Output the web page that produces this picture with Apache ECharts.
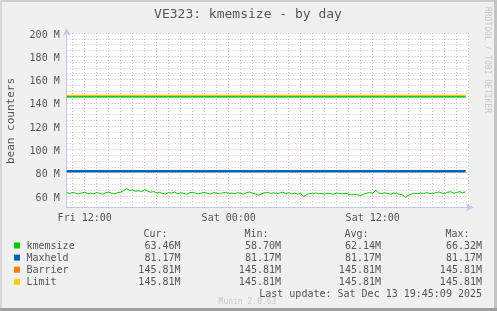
<!DOCTYPE html>
<html><head><meta charset="utf-8">
<script src="https://cdn.jsdelivr.net/npm/echarts@6/dist/echarts.min.js"></script>
<style>html,body{margin:0;padding:0;background:#f0f0f0}#c{width:497px;height:311px}</style>
</head><body><div id="c"></div>
<script>
// ---- data ----
const startHour = 10.5;          // Fri 10:30 (hours since Fri 00:00)
const stepHour = 0.25;           // 15-minute samples
const kmemsize = [
62.8,62.1,63.0,62.4,61.7,62.6,63.2,62.0,62.5,61.8,
62.9,62.3,61.6,62.7,63.4,62.2,61.9,62.8,63.3,64.6,
66.3,64.8,65.2,63.9,64.7,63.6,65.4,64.1,63.2,63.8,
62.6,63.1,62.2,61.8,62.9,62.4,63.3,61.9,62.7,62.1,
61.6,62.8,63.2,62.3,61.9,62.6,63.0,62.2,61.7,62.9,
62.4,61.8,62.7,63.1,62.0,62.5,61.9,62.8,62.3,61.6,
62.9,63.4,62.1,61.7,60.6,61.9,62.6,63.0,62.2,62.7,
61.9,62.5,63.3,62.0,62.8,61.8,62.4,61.5,62.1,59.4,
61.2,62.3,61.8,62.6,61.9,62.2,61.6,62.4,62.0,61.7,
62.5,62.1,61.8,62.3,61.4,61.1,61.2,61.0,60.3,61.6,
62.4,63.0,62.2,65.0,62.6,61.9,62.7,62.1,61.6,62.5,
62.0,61.5,60.9,58.7,60.8,61.7,62.3,61.9,62.6,62.1,
62.8,62.2,61.8,62.7,63.4,62.5,62.0,63.2,63.6,62.4,
62.9,63.7,62.8,63.46
];
const maxheld = 81.17;
const barrier = 145.81;
const limit = 145.81;
const xTickLabels = {12: 'Fri 12:00', 24: 'Sat 00:00', 36: 'Sat 12:00'};
const legendNames = ['kmemsize', 'Maxheld', 'Barrier', 'Limit'];
const legendColors = ['#00cc00', '#0066b3', '#ff8000', '#ffcc00'];
const statHeaders = ['Cur:', 'Min:', 'Avg:', 'Max:'];
const stats = [
  ['63.46M', '58.70M', '62.14M', '66.32M'],
  ['81.17M', '81.17M', '81.17M', '81.17M'],
  ['145.81M', '145.81M', '145.81M', '145.81M'],
  ['145.81M', '145.81M', '145.81M', '145.81M']
];
const titleText = 'VE323: kmemsize - by day';
const yName = 'bean counters';
const lastUpdate = 'Last update: Sat Dec 13 19:45:09 2025';
const munin = 'Munin 2.0.63';
const rrd = 'RRDTOOL / TOBI OETIKER';

// ---- build ----
const times = kmemsize.map((_, i) => startHour + i * stepHour);
const endHour = times[times.length - 1];
const green = times.map((t, i) => [t, kmemsize[i]]);
const flat = v => [[times[0], v], [endHour, v]];

const FONT = 'DejaVu Sans Mono';
const TXT = '#555';
const T = 'rgba(0,0,0,0)', G = '#c8c8c8', R = '#f3a6a6';

const graphic = [
  {type: 'rect', shape: {x: 0, y: 0, width: 497, height: 2}, style: {fill: '#cdcdcd'}, silent: true},
  {type: 'rect', shape: {x: 0, y: 0, width: 2, height: 311}, style: {fill: '#d6d6d6'}, silent: true},
  {type: 'rect', shape: {x: 494, y: 0, width: 3, height: 311}, style: {fill: '#c4c4c4'}, silent: true},
  {type: 'rect', shape: {x: 0, y: 308, width: 497, height: 3}, style: {fill: '#a0a0a0'}, silent: true},
  {type: 'text', x: 248, y: 15, style: {text: titleText, font: '13px ' + FONT, fill: TXT, align: 'center', verticalAlign: 'middle'}},
  {type: 'text', x: 11.5, y: 121, rotation: Math.PI / 2, style: {text: yName, font: '11px ' + FONT, fill: TXT, align: 'center', verticalAlign: 'middle'}},
  {type: 'text', x: 487, y: 60, rotation: -Math.PI / 2, style: {text: rrd, font: '8px ' + FONT, fill: '#c8c8c8', align: 'center', verticalAlign: 'middle'}},
  {type: 'text', x: 482, y: 294.5, style: {text: lastUpdate, font: '10px ' + FONT, fill: TXT, align: 'right', verticalAlign: 'middle'}},
  {type: 'text', x: 247.5, y: 301.5, style: {text: munin, font: '8px ' + FONT, fill: '#c8c8c8', align: 'center', verticalAlign: 'middle'}}
];
const headerRight = [167.5, 268.5, 368.5, 469.5];
const valueRight = [180.5, 281, 381, 482];
statHeaders.forEach((h, j) => graphic.push({type: 'text', x: headerRight[j], y: 234, style: {text: h, font: '10px ' + FONT, fill: TXT, align: 'right', verticalAlign: 'middle'}}));
legendNames.forEach((n, i) => {
  const y = 245.5 + i * 12.1;
  graphic.push({type: 'rect', shape: {x: 14, y: y - 3, width: 6, height: 6}, style: {fill: legendColors[i]}, silent: true});
  graphic.push({type: 'text', x: 26.5, y: y + 1, style: {text: n, font: '10px ' + FONT, fill: TXT, align: 'left', verticalAlign: 'middle'}});
  stats[i].forEach((s, j) => graphic.push({type: 'text', x: valueRight[j], y: y + 1, style: {text: s, font: '10px ' + FONT, fill: TXT, align: 'right', verticalAlign: 'middle'}}));
});

const axisLineColor = '#c3c8f2';
const option = {
  animation: false,
  backgroundColor: '#f0f0f0',
  grid: {left: 66.7, right: 28.3, top: 33, bottom: 103.4, show: true, backgroundColor: '#ffffff', borderWidth: 0},
  xAxis: {
    type: 'value', min: startHour, max: 44, interval: 0.5,
    axisLine: {show: true, lineStyle: {color: axisLineColor, width: 1}, symbol: ['none', 'arrow'], symbolSize: [6, 8], symbolOffset: [0, 5]},
    axisTick: {show: false},
    axisLabel: {
      margin: 5, padding: [1, 0, 0, 0], color: TXT, fontFamily: FONT, fontSize: 10,
      formatter: v => xTickLabels[Math.round(v * 2) / 2] || ''
    },
    splitLine: {show: true, lineStyle: {type: [1, 2], width: 1, color: [T, G, T, R, T, G, T, G, T, G, T, G]}}
  },
  yAxis: {
    type: 'value', min: 50, max: 200, interval: 5,
    axisLine: {show: true, lineStyle: {color: axisLineColor, width: 1}, symbol: ['none', 'arrow'], symbolSize: [6, 8], symbolOffset: [0, 5]},
    axisTick: {show: false},
    axisLabel: {
      margin: 7, color: TXT, fontFamily: FONT, fontSize: 10,
      formatter: v => (Math.round(v) % 20 === 0 && v >= 60) ? '{a|' + Math.round(v) + ' M}' : '',
      rich: {a: {fontFamily: FONT, fontSize: 10, color: TXT, padding: [4, 0, 0, 0]}}
    },
    splitLine: {show: true, lineStyle: {type: [1, 2], width: 1, color: [G, G, R, G]}}
  },
  graphic: graphic,
  series: [
    {name: legendNames[0], type: 'line', data: green, showSymbol: false, lineStyle: {color: legendColors[0], width: 1}, z: 5},
    {name: legendNames[1], type: 'line', data: flat(maxheld), showSymbol: false, lineStyle: {color: legendColors[1], width: 2.4}, z: 4},
    {name: legendNames[2], type: 'line', data: flat(barrier), showSymbol: false, lineStyle: {color: legendColors[2], width: 1}, z: 3},
    {name: legendNames[3], type: 'line', data: flat(limit), showSymbol: false, lineStyle: {color: legendColors[3], width: 2.6}, z: 4}
  ]
};
const chart = echarts.init(document.getElementById('c'), null, {renderer: 'canvas'});
chart.setOption(option);
// Limit line rendered with the yellow-over-green look of the original, placed from the axis scale
const yPix = chart.convertToPixel({yAxisIndex: 0}, limit);
chart.setOption({series: [{}, {}, {}, {lineStyle: {color: {
  type: 'linear', global: true, x: 0, y: yPix - 1.3, x2: 0, y2: yPix + 1.3,
  colorStops: [
    {offset: 0, color: '#ffb000'}, {offset: 0.4, color: '#ffcc00'},
    {offset: 0.5, color: '#22cc00'}, {offset: 1, color: '#00cc00'}
  ]}}}]});
</script></body></html>
